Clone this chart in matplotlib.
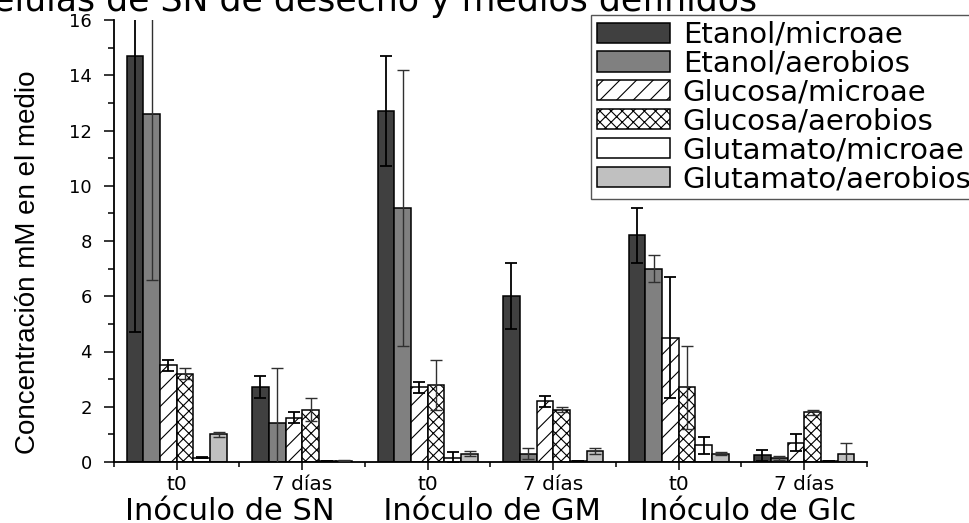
import numpy as np
import matplotlib
matplotlib.use('Agg')
import matplotlib.pyplot as plt
from matplotlib import font_manager

plt.rcParams['font.family'] = 'DejaVu Sans'
plt.rcParams['hatch.linewidth'] = 0.8
plt.rcParams['hatch.color'] = 'black'

# muestras: tiempo dentro de cada inóculo
tiempos = ['t0', '7 días', 't0', '7 días', 't0', '7 días']
inoculos = 'Inóculo de SN     Inóculo de GM    Inóculo de Glc'

series = ['Etanol/microae', 'Etanol/aerobios', 'Glucosa/microae',
          'Glucosa/aerobios', 'Glutamato/microae', 'Glutamato/aerobios']

etanol_micro = [14.7, 2.7, 12.7, 6.0, 8.2, 0.25]
etanol_micro_err = [10.0, 0.4, 2.0, 1.2, 1.0, 0.2]
etanol_aer = [12.6, 1.4, 9.2, 0.3, 7.0, 0.15]
etanol_aer_err = [6.0, 2.0, 5.0, 0.2, 0.5, 0.07]
gluc_micro = [3.5, 1.6, 2.7, 2.2, 4.5, 0.7]
gluc_micro_err = [0.2, 0.2, 0.2, 0.2, 2.2, 0.3]
gluc_aer = [3.2, 1.9, 2.8, 1.9, 2.7, 1.8]
gluc_aer_err = [0.2, 0.4, 0.9, 0.1, 1.5, 0.1]
glut_micro = [0.15, 0.02, 0.15, 0.02, 0.6, 0.02]
glut_micro_err = [0.02, 0.0, 0.2, 0.0, 0.3, 0.0]
glut_aer = [1.0, 0.05, 0.3, 0.4, 0.3, 0.3]
glut_aer_err = [0.1, 0.02, 0.1, 0.1, 0.05, 0.4]

valores = [etanol_micro, etanol_aer, gluc_micro, gluc_aer, glut_micro, glut_aer]
errores = [etanol_micro_err, etanol_aer_err, gluc_micro_err, gluc_aer_err,
           glut_micro_err, glut_aer_err]
colores = ['#404040', '#808080', 'white', 'white', 'white', '#c0c0c0']
tramas = [None, None, '//', 'xxx', None, None]
err_col = ['black', '#303030', 'black', '#303030', 'black', '#303030']
err_lw = [1.3, 1.0, 1.3, 1.0, 1.3, 1.0]

# fuente estrecha para el eje y si esta disponible
nombres = {f.name for f in font_manager.fontManager.ttflist}
if 'Liberation Sans Narrow' in nombres:
    ylab_font, ylab_size = 'Liberation Sans Narrow', 24
else:
    ylab_font, ylab_size = 'Liberation Sans', 20

fig = plt.figure(figsize=(9.7, 5.23), dpi=100)
ax = fig.add_axes([114/970, 61/523, 753/970, 442/523])

x = np.arange(1, 7)
w = 0.8/6
barras = []
for i in range(6):
    pos = x + (i - 2.5)*w
    b = ax.bar(pos, valores[i], w, color=colores[i], edgecolor='black',
               linewidth=1.1, hatch=tramas[i], label=series[i], zorder=2)
    barras.append(b)
    ax.errorbar(pos, valores[i], yerr=errores[i], fmt='none', ecolor=err_col[i],
                elinewidth=err_lw[i], capsize=4, capthick=err_lw[i], zorder=3)

ax.set_xlim(0.5, 6.5)
ax.set_ylim(0, 16)
ax.set_xticks(x)
ax.set_xticklabels(tiempos, fontsize=14.5)
ax.set_xticks(np.arange(0.5, 7, 1), minor=True)
ax.set_yticks(np.arange(0, 17, 2))
ax.set_yticks(np.arange(1, 16, 2), minor=True)
ax.tick_params(axis='y', which='major', length=7, width=1.1, labelsize=13, pad=9)
ax.tick_params(axis='y', which='minor', length=4, width=1.1)
ax.tick_params(axis='x', which='major', length=6, width=1.1, pad=3.5)
ax.tick_params(axis='x', which='minor', length=3.5, width=1.1)

for s in ['top', 'right']:
    ax.spines[s].set_visible(False)
for s in ['left', 'bottom']:
    ax.spines[s].set_linewidth(1.3)

ax.set_xlabel(inoculos, fontsize=22, labelpad=2)
ax.set_ylabel('Concentración mM en el medio', family=[ylab_font, 'DejaVu Sans'],
              fontsize=ylab_size)
ax.yaxis.set_label_coords(-0.097, 0.451)

fig.text(-26/970, 1 - 11/523, 'células de SN de desecho y medios definidos',
         fontsize=25, ha='left', va='baseline')

ax.legend(handles=barras, loc='upper left', bbox_to_anchor=(591/970, 1 - 15/523),
          bbox_transform=fig.transFigure, fontsize=21, fancybox=False,
          edgecolor='#555555', framealpha=1, borderpad=0.2, labelspacing=0.03,
          handlelength=2.5, handleheight=0.685, handletextpad=0.445,
          borderaxespad=0)

fig.savefig('out.png', dpi=100)
